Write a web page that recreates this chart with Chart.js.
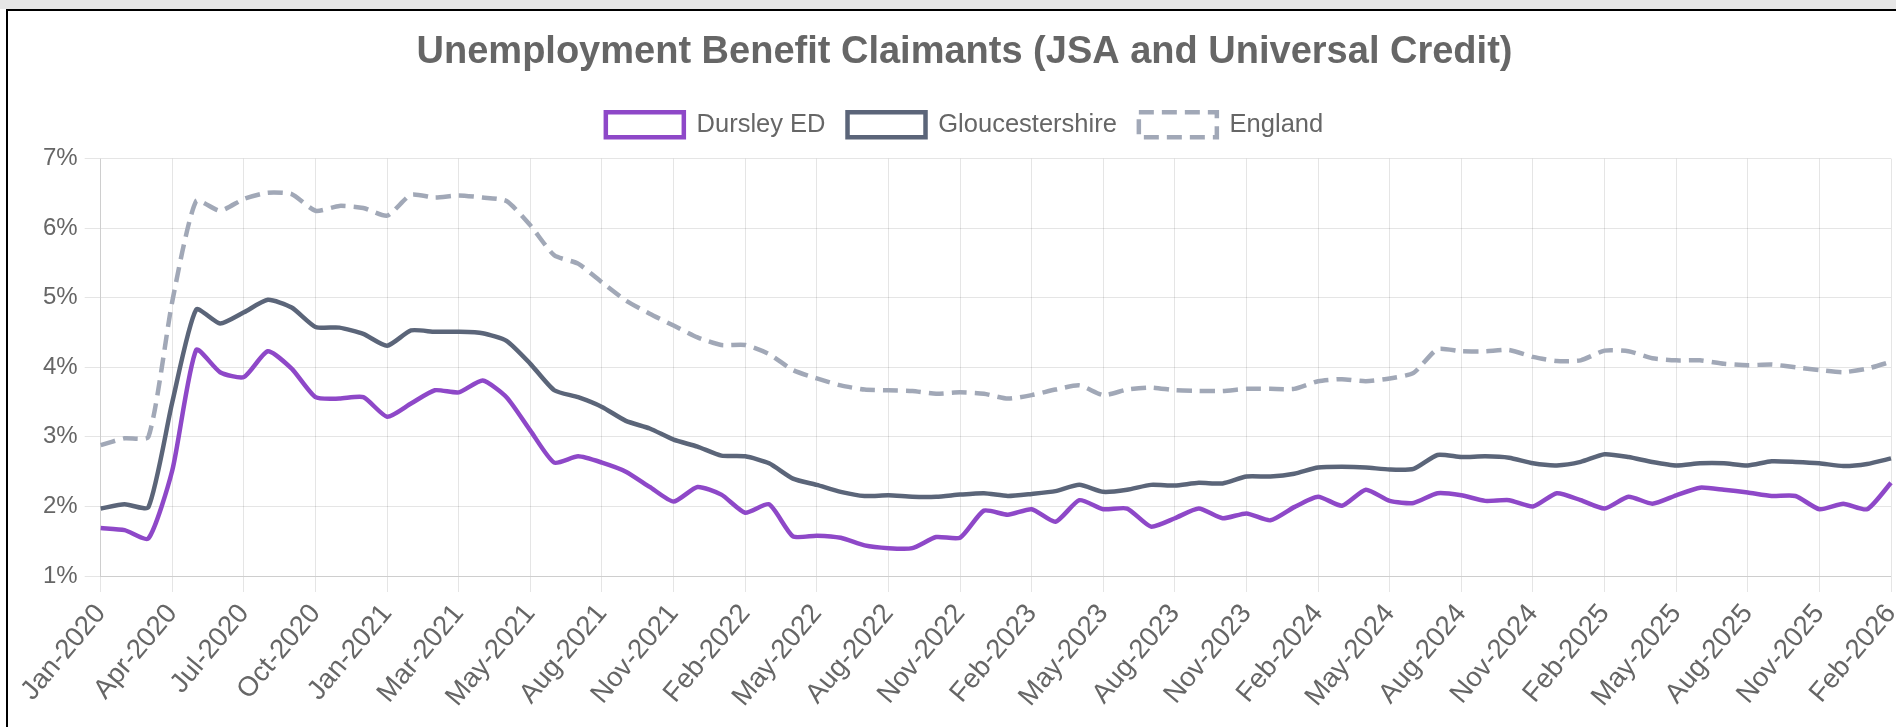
<!DOCTYPE html>
<html>
<head>
<meta charset="utf-8">
<script src="https://cdn.jsdelivr.net/npm/chart.js@4.4.1/dist/chart.umd.min.js"></script>
<style>
  html, body { margin: 0; padding: 0; background: #fff; width: 1896px; height: 727px; overflow: hidden; }
  #topbar { position: absolute; left: 0; top: 0; width: 1896px; height: 9px; background: #e6e6e6; }
  #frame { position: absolute; left: 6px; top: 9px; width: 1890px; height: 718px; border-left: 2px solid #000; border-top: 2px solid #000; box-sizing: border-box; }
  #wrap { position: absolute; left: 8px; top: 11px; width: 1888px; height: 716px; }
</style>
</head>
<body>
<div id="topbar"></div>
<div id="frame"></div>
<div id="wrap"><canvas id="c"></canvas></div>
<script>
const labels = [
  "Jan-2020","Feb-2020","Mar-2020","Apr-2020","May-2020","Jun-2020","Jul-2020","Aug-2020","Sep-2020","Oct-2020","Nov-2020","Dec-2020",
  "Jan-2021","Feb-2021","Feb-2021","Mar-2021","Apr-2021","Apr-2021","May-2021","Jun-2021","Jul-2021","Aug-2021","Sep-2021","Oct-2021",
  "Nov-2021","Dec-2021","Jan-2022","Feb-2022","Mar-2022","Apr-2022","May-2022","Jun-2022","Jul-2022","Aug-2022","Sep-2022","Oct-2022",
  "Nov-2022","Dec-2022","Jan-2023","Feb-2023","Mar-2023","Apr-2023","May-2023","Jun-2023","Jul-2023","Aug-2023","Sep-2023","Oct-2023",
  "Nov-2023","Dec-2023","Jan-2024","Feb-2024","Mar-2024","Apr-2024","May-2024","Jun-2024","Jul-2024","Aug-2024","Sep-2024","Oct-2024",
  "Nov-2024","Dec-2024","Jan-2025","Feb-2025","Mar-2025","Apr-2025","May-2025","Jun-2025","Jul-2025","Aug-2025","Sep-2025","Oct-2025",
  "Nov-2025","Dec-2025","Jan-2026","Feb-2026"
];

const dursley = [
  1.69,1.66,1.54,2.52,4.25,3.93,3.86,4.23,3.98,3.57,3.55,3.57,
  3.29,3.48,3.67,3.64,3.81,3.57,3.09,2.63,2.72,2.63,2.50,2.28,
  2.07,2.28,2.17,1.91,2.03,1.57,1.58,1.55,1.44,1.40,1.40,1.56,
  1.55,1.94,1.88,1.96,1.78,2.09,1.96,1.97,1.71,1.83,1.97,1.83,
  1.90,1.80,1.99,2.14,2.01,2.24,2.08,2.05,2.19,2.16,2.08,2.09,
  2.00,2.19,2.09,1.97,2.14,2.04,2.16,2.27,2.24,2.20,2.15,2.15,
  1.96,2.04,1.96,2.34
];

const gloucestershire = [
  1.97,2.03,1.99,3.50,4.83,4.63,4.79,4.97,4.86,4.58,4.57,4.48,
  4.31,4.53,4.51,4.51,4.49,4.38,4.05,3.67,3.57,3.43,3.23,3.12,
  2.96,2.86,2.73,2.72,2.62,2.40,2.31,2.21,2.15,2.16,2.14,2.14,
  2.17,2.19,2.15,2.18,2.22,2.31,2.21,2.24,2.31,2.30,2.34,2.33,
  2.43,2.43,2.47,2.56,2.57,2.56,2.53,2.54,2.74,2.71,2.72,2.70,
  2.62,2.59,2.64,2.75,2.71,2.64,2.59,2.62,2.62,2.59,2.65,2.64,
  2.62,2.58,2.61,2.69
];

const england = [
  2.88,2.98,3.00,4.95,6.39,6.25,6.42,6.51,6.49,6.25,6.32,6.29,
  6.18,6.48,6.44,6.47,6.44,6.39,6.04,5.61,5.49,5.22,4.96,4.77,
  4.60,4.43,4.32,4.32,4.19,3.96,3.84,3.74,3.68,3.67,3.66,3.62,
  3.64,3.62,3.55,3.60,3.68,3.74,3.60,3.68,3.71,3.67,3.66,3.66,
  3.69,3.69,3.69,3.80,3.83,3.80,3.84,3.92,4.26,4.23,4.23,4.25,
  4.15,4.09,4.10,4.24,4.23,4.13,4.10,4.10,4.05,4.03,4.04,4.00,
  3.96,3.93,3.98,4.08
];

const seriesNames = ["Dursley ED", "Gloucestershire", "England"];
const yTicks = [1, 7, 1]; // min, max, step
const titleText = "Unemployment Benefit Claimants (JSA and Universal Credit)";

const FONT = "'Liberation Sans', Arial, Helvetica, sans-serif";
Chart.defaults.font.family = FONT;
Chart.defaults.color = '#666';

// empty layout box that adds a gap between the legend and the plot area
const legendSpacer = {
  id: 'legendSpacer',
  beforeInit(chart) {
    const GAP = 11;
    const box = {
      position: 'top', weight: 0, fullSize: true, options: {},
      left: 0, top: 0, right: 0, bottom: 0, width: 0, height: 0,
      isHorizontal() { return true; },
      update(maxWidth) { this.width = maxWidth; this.height = GAP; },
      draw() {}
    };
    Chart.layouts.addBox(chart, box);
  }
};

new Chart(document.getElementById('c'), {
  type: 'line',
  data: {
    labels: labels,
    datasets: [
      { label: seriesNames[0], data: dursley, borderColor: '#8E48C8', backgroundColor: '#ffffff',
        borderWidth: 4.5, pointRadius: 0, tension: 0.2, fill: false },
      { label: seriesNames[1], data: gloucestershire, borderColor: '#5B6579', backgroundColor: '#ffffff',
        borderWidth: 4.5, pointRadius: 0, tension: 0.2, fill: false },
      { label: seriesNames[2], data: england, borderColor: '#A1A8B7', backgroundColor: '#ffffff',
        borderWidth: 4.5, pointRadius: 0, tension: 0.2, fill: false, borderDash: [15, 8] }
    ]
  },
  plugins: [legendSpacer],
  options: {
    responsive: true,
    maintainAspectRatio: false,
    animation: false,
    layout: { padding: { left: 27, right: 2, top: 0, bottom: 0 } },
    plugins: {
      title: {
        display: true, text: titleText, color: '#666',
        font: { size: 38, weight: 'bold', family: FONT },
        padding: { top: 18.5, bottom: 15 }
      },
      legend: {
        display: true, position: 'top',
        labels: { color: '#666', font: { size: 25.5, family: FONT }, boxWidth: 78, boxHeight: 25, padding: 22 }
      },
      tooltip: { enabled: false }
    },
    scales: {
      x: {
        grid: { color: 'rgba(0,0,0,0.1)', tickLength: 16 },
        ticks: { color: '#666', font: { size: 27.5, family: FONT }, autoSkip: true, maxTicksLimit: 26,
                 maxRotation: 50, minRotation: 50, padding: 6 },
        afterFit: (s) => { s.paddingLeft = 0; s.paddingRight = 5; s.height = 151; }
      },
      y: {
        min: yTicks[0], max: yTicks[1],
        grid: { color: 'rgba(0,0,0,0.1)', tickLength: 16 },
        ticks: { color: '#666', font: { size: 24, family: FONT }, stepSize: yTicks[2], padding: 7,
                 callback: (v) => v + '%' },
        afterFit: (s) => { s.width = 65.7; s.paddingTop = 0; s.paddingBottom = 0; }
      }
    }
  }
});
</script>
</body>
</html>
